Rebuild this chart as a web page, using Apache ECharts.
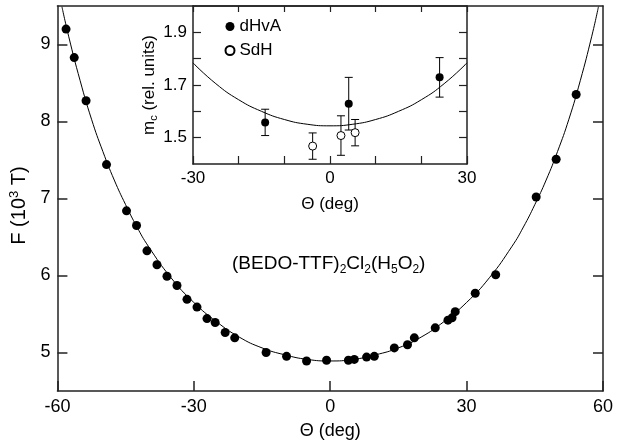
<!DOCTYPE html>
<html>
<head>
<meta charset="utf-8">
<script src="https://cdn.jsdelivr.net/npm/echarts@6/dist/echarts.min.js"></script>
<style>
  html, body { margin: 0; padding: 0; background: #fff; }
  #chart { width: 635px; height: 445px; }
</style>
</head>
<body>
<div id="chart"></div>
<script>
const FONT = '"Liberation Sans", Arial, Helvetica, sans-serif';
const INK = '#000';
const FRAME = '#222';

// Main panel: dHvA frequency versus tilt angle
const angleMain = [-58.1, -56.3, -53.7, -49.2, -44.8, -42.6, -40.3, -38.1, -35.9, -33.7,
  -31.5, -29.3, -27.1, -25.3, -23.1, -21.0, -14.1, -9.6, -5.2, -0.8,
  4.0, 5.3, 8.0, 9.7, 14.1, 17.0, 18.5, 23.1, 25.9, 26.8,
  27.5, 31.9, 36.4, 45.3, 49.7, 54.1];
const freqMain = [9.20, 8.83, 8.27, 7.44, 6.84, 6.65, 6.32, 6.14, 5.99, 5.87,
  5.69, 5.59, 5.44, 5.39, 5.26, 5.19, 5.00, 4.95, 4.89, 4.90,
  4.90, 4.91, 4.94, 4.95, 5.06, 5.10, 5.19, 5.32, 5.42, 5.45,
  5.53, 5.77, 6.01, 7.02, 7.51, 8.35];

// Fitted curve through the main data
const fitAngle = [-59, -57.5, -55, -52.5, -50, -47.5, -45, -42.5, -40, -35, -30, -25, -20, -15, -10, -5,
  0, 5, 10, 15, 20, 25, 30, 35, 40, 42.5, 45, 47.5, 50, 52.5, 55, 57.5, 59];
const fitFreq = [9.49, 9.10, 8.53, 8.03, 7.61, 7.24, 6.92, 6.63, 6.38, 5.97, 5.65, 5.40, 5.20, 5.06, 4.97, 4.91,
  4.89, 4.91, 4.97, 5.06, 5.20, 5.40, 5.65, 5.97, 6.38, 6.63, 6.92, 7.24, 7.61, 8.03, 8.53, 9.10, 9.49];

// Inset: cyclotron mass with error bars
const dhvaAngle = [-14.2, 4.1, 24.0];
const dhvaMass = [1.558, 1.629, 1.729];
const dhvaErr = [0.05, 0.10, 0.075];
const sdhAngle = [-3.8, 2.4, 5.5];
const sdhMass = [1.468, 1.508, 1.519];
const sdhErr = [0.05, 0.075, 0.05];

const massFitAngle = [-30, -25, -20, -15, -10, -5, 0, 5, 10, 15, 20, 25, 30];
const massFitValue = [1.784, 1.705, 1.644, 1.600, 1.569, 1.551, 1.545, 1.551, 1.569, 1.600, 1.644, 1.705, 1.784];

// Tick positions
const mainXTicks = [-60, -30, 0, 30, 60];
const mainYTicks = [5, 6, 7, 8, 9];
const insetXTicks = [-30, -20, -10, 0, 10, 20, 30];
const insetXLabels = [-30, 0, 30];
const insetYTicks = [1.5, 1.6, 1.7, 1.8, 1.9];
const insetYLabels = [1.5, 1.7, 1.9];

const zip = (a, b) => a.map((v, i) => [v, b[i]]);
const zip3 = (a, b, c) => a.map((v, i) => [v, b[i], c[i]]);

function errorBar(params, api) {
  const x = api.value(0), y = api.value(1), e = api.value(2);
  const hi = api.coord([x, y + e]);
  const lo = api.coord([x, y - e]);
  const w = 4;
  const style = { stroke: '#000', lineWidth: 1 };
  return {
    type: 'group',
    children: [
      { type: 'line', shape: { x1: hi[0], y1: hi[1], x2: lo[0], y2: lo[1] }, style },
      { type: 'line', shape: { x1: hi[0] - w, y1: hi[1], x2: hi[0] + w, y2: hi[1] }, style },
      { type: 'line', shape: { x1: lo[0] - w, y1: lo[1], x2: lo[0] + w, y2: lo[1] }, style }
    ]
  };
}

const frameLine = (w) => ({ show: true, onZero: false, lineStyle: { color: FRAME, width: w } });
const tickStyle = (len, vals, w) => ({ show: true, inside: true, length: len, customValues: vals, lineStyle: { color: FRAME, width: w } });
const noLabel = { show: false };
const noSplit = { show: false };

const chart = echarts.init(document.getElementById('chart'), null, { renderer: 'canvas' });

chart.setOption({
  animation: false,
  backgroundColor: '#fff',
  textStyle: { fontFamily: FONT },
  grid: [
    { left: 56, top: 6, width: 547, height: 385 },
    { left: 193, top: 6, width: 274, height: 158, show: true, backgroundColor: '#fff', borderWidth: 0 }
  ],
  legend: {
    data: ['dHvA', 'SdH'],
    orient: 'vertical',
    left: 219.5,
    top: 13,
    itemWidth: 9,
    itemHeight: 9,
    itemGap: 7,
    icon: 'circle',
    textStyle: { fontSize: 17, color: INK, fontFamily: FONT }
  },
  xAxis: [
    {
      gridIndex: 0, type: 'value', min: -60, max: 60, position: 'bottom',
      axisLine: frameLine(1.5), axisTick: tickStyle(10, mainXTicks, 1.5),
      axisLabel: { customValues: mainXTicks, fontSize: 18, color: INK, margin: 7, fontFamily: FONT },
      splitLine: noSplit,
      name: 'Θ (deg)', nameLocation: 'middle', nameGap: 31,
      nameTextStyle: { fontSize: 18, color: INK, fontFamily: FONT }
    },
    {
      gridIndex: 0, type: 'value', min: -60, max: 60, position: 'top',
      axisLine: frameLine(1.5), axisTick: { show: false }, axisLabel: noLabel, splitLine: noSplit
    },
    {
      gridIndex: 1, type: 'value', min: -30, max: 30, position: 'bottom',
      axisLine: frameLine(1.5), axisTick: tickStyle(8, insetXTicks, 1.2),
      axisLabel: { customValues: insetXLabels, fontSize: 17, color: INK, margin: 6, fontFamily: FONT },
      splitLine: noSplit,
      name: 'Θ (deg)', nameLocation: 'middle', nameGap: 32,
      nameTextStyle: { fontSize: 17, color: INK, fontFamily: FONT }
    },
    {
      gridIndex: 1, type: 'value', min: -30, max: 30, position: 'top',
      axisLine: frameLine(1.5), axisTick: tickStyle(6, insetXTicks, 1.2), axisLabel: noLabel, splitLine: noSplit
    }
  ],
  yAxis: [
    {
      gridIndex: 0, type: 'value', min: 4.5, max: 9.5, position: 'left',
      axisLine: frameLine(1.5), axisTick: tickStyle(10, mainYTicks, 1.5),
      axisLabel: { customValues: mainYTicks, fontSize: 18, color: INK, margin: 7, fontFamily: FONT },
      splitLine: noSplit,
      name: '{a|F (10}{s|3}{a| T)}', nameLocation: 'middle', nameGap: 21, nameRotate: 90,
      nameTextStyle: {
        color: INK, fontFamily: FONT, padding: [0, 14, 0, 0],
        rich: {
          a: { fontSize: 20, lineHeight: 23, color: INK, fontFamily: FONT },
          s: { fontSize: 13, lineHeight: 13, verticalAlign: 'top', color: INK, fontFamily: FONT }
        }
      }
    },
    {
      gridIndex: 0, type: 'value', min: 4.5, max: 9.5, position: 'right',
      axisLine: frameLine(1.5), axisTick: tickStyle(10, mainYTicks, 1.5), axisLabel: noLabel, splitLine: noSplit
    },
    {
      gridIndex: 1, type: 'value', min: 1.4, max: 2.0, position: 'left',
      axisLine: frameLine(1.5), axisTick: tickStyle(8, insetYTicks, 1.2),
      axisLabel: { customValues: insetYLabels, formatter: v => v.toFixed(1), fontSize: 17, color: INK, margin: 6, fontFamily: FONT },
      splitLine: noSplit,
      name: '{a|m}{s|c}{a| (rel. units)}', nameLocation: 'middle', nameGap: 12, nameRotate: 90,
      nameTextStyle: {
        color: INK, fontFamily: FONT,
        rich: {
          a: { fontSize: 17, lineHeight: 20, color: INK, fontFamily: FONT },
          s: { fontSize: 11, lineHeight: 11, verticalAlign: 'bottom', color: INK, fontFamily: FONT }
        }
      }
    },
    {
      gridIndex: 1, type: 'value', min: 1.4, max: 2.0, position: 'right',
      axisLine: frameLine(1.5), axisTick: tickStyle(8, insetYTicks, 1.2), axisLabel: noLabel, splitLine: noSplit
    }
  ],
  graphic: [
    {
      type: 'text', left: 232, top: 254, z: 10,
      style: {
        text: '{a|(BEDO-TTF)}{s|2}{a|Cl}{s|2}{a|(H}{s|5}{a|O}{s|2}{a|)}',
        rich: {
          a: { fontSize: 19, lineHeight: 24, fill: INK, fontFamily: FONT },
          s: { fontSize: 12, lineHeight: 12, verticalAlign: 'bottom', fill: INK, fontFamily: FONT }
        }
      }
    }
  ],
  series: [
    {
      type: 'line', xAxisIndex: 0, yAxisIndex: 0, data: zip(fitAngle, fitFreq),
      showSymbol: false, smooth: true, silent: true,
      lineStyle: { color: '#000', width: 1 }, z: 2
    },
    {
      type: 'scatter', xAxisIndex: 0, yAxisIndex: 0, data: zip(angleMain, freqMain),
      symbolSize: 9, itemStyle: { color: '#000', opacity: 1 }, z: 3
    },
    {
      type: 'line', xAxisIndex: 2, yAxisIndex: 2, data: zip(massFitAngle, massFitValue),
      showSymbol: false, smooth: true, silent: true,
      lineStyle: { color: '#000', width: 1 }, z: 4
    },
    {
      type: 'custom', name: 'dHvA-err', xAxisIndex: 2, yAxisIndex: 2,
      data: zip3(dhvaAngle, dhvaMass, dhvaErr), renderItem: errorBar, z: 5
    },
    {
      type: 'custom', name: 'SdH-err', xAxisIndex: 2, yAxisIndex: 2,
      data: zip3(sdhAngle, sdhMass, sdhErr), renderItem: errorBar, z: 5
    },
    {
      type: 'scatter', name: 'dHvA', xAxisIndex: 2, yAxisIndex: 2, data: zip(dhvaAngle, dhvaMass),
      symbolSize: 8, itemStyle: { color: '#000', opacity: 1 }, z: 6
    },
    {
      type: 'scatter', name: 'SdH', xAxisIndex: 2, yAxisIndex: 2, data: zip(sdhAngle, sdhMass),
      symbolSize: 8, itemStyle: { color: '#fff', borderColor: '#000', borderWidth: 1, opacity: 1 }, z: 6
    }
  ]
});
</script>
</body>
</html>
